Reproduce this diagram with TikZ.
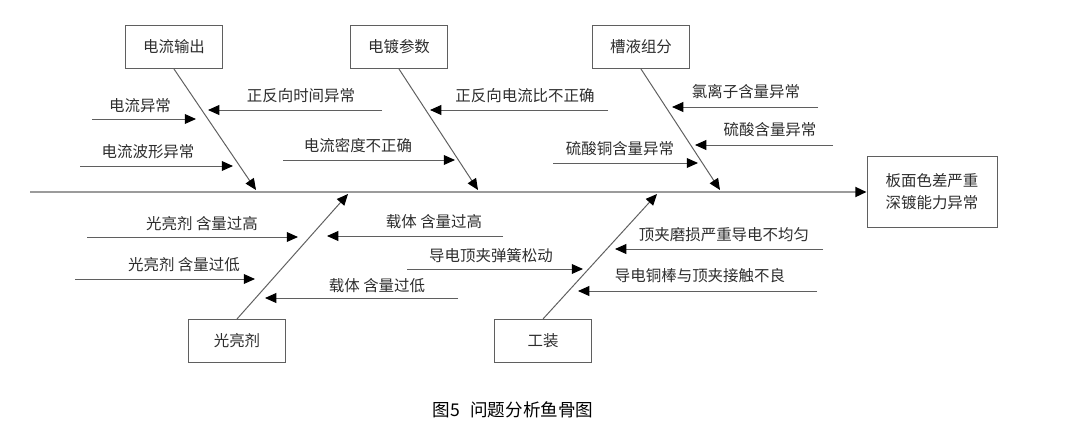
\documentclass[tikz,border=0pt]{standalone}
\usepackage{fontspec}
\setmainfont{Noto Sans CJK SC}
\usepackage{xcolor}
\definecolor{txtgray}{RGB}{45,45,45}
\definecolor{linegray}{RGB}{95,95,95}
\definecolor{spinegray}{RGB}{155,155,155}
\usepackage{tikz}
\usetikzlibrary{arrows.meta}

\begin{document}
\begin{tikzpicture}[x=0.025cm,y=-0.025cm,
  font=\fontsize{11pt}{15.5pt}\selectfont,every node/.style={align=center,text=txtgray},
  catbox/.style={draw=linegray,line width=0.6pt,minimum width=2.43cm,minimum height=1.08cm,inner sep=0pt},
  bone/.style={draw=linegray,line width=0.7pt,-{Triangle[length=8pt,width=7pt,color=black]}},
  cause/.style={bone},
  spine/.style={draw=spinegray,line width=1.6pt,-{Triangle[length=8pt,width=7pt,color=black]}}]
  % Lienzo 1087 x 434 px (1 px = 0.025 cm, y hacia abajo)
  \useasboundingbox (0,0) rectangle (1087,434);
  % --- Efecto y espina ---
  \node[catbox,minimum width=3.25cm,minimum height=1.78cm] (effect) at (932,192) {板面色差严重\\深镀能力异常};
  \coordinate (tail) at (30,192);
  \draw[spine] (tail) -- (effect.west);
  % --- Categorías ---
  \node[catbox] (current) at (174,47)  {电流输出};
  \node[catbox] (param)   at (399,47)  {电镀参数};
  \node[catbox] (bath)    at (641,47)  {槽液组分};
  \node[catbox] (bright)  at (237,341) {光亮剂};
  \node[catbox] (fixture) at (543,341) {工装};
  % --- Huesos principales ---
  \coordinate (current-in) at (256,190); \draw[bone] (current.south) -- (current-in);
  \coordinate (param-in)   at (478,190); \draw[bone] (param.south) -- (param-in);
  \coordinate (bath-in)    at (720,190); \draw[bone] (bath.south) -- (bath-in);
  \coordinate (bright-in)  at (348,194); \draw[bone] (bright.north) -- (bright-in);
  \coordinate (fixture-in) at (657,194); \draw[bone] (fixture.north) -- (fixture-in);
  % --- Causas: 电流输出 ---
  \coordinate (c1a) at (92,119);  \coordinate (c1b) at (196,119); \draw[cause] (c1a) -- (c1b); \node (c1) at (140,106) {电流异常};
  \coordinate (c2a) at (80,166);  \coordinate (c2b) at (233,166); \draw[cause] (c2a) -- (c2b); \node (c2) at (148,152) {电流波形异常};
  \coordinate (c3a) at (382,110); \coordinate (c3b) at (208,110); \draw[cause] (c3a) -- (c3b); \node (c3) at (301,96)  {正反向时间异常};
  % --- Causas: 电镀参数 ---
  \coordinate (c4a) at (283,160); \coordinate (c4b) at (455,160); \draw[cause] (c4a) -- (c4b); \node (c4) at (358,146) {电流密度不正确};
  \coordinate (c5a) at (608,110); \coordinate (c5b) at (430,110); \draw[cause] (c5a) -- (c5b); \node (c5) at (525,96)  {正反向电流比不正确};
  % --- Causas: 槽液组分 ---
  \coordinate (c6a) at (818,107); \coordinate (c6b) at (672,107); \draw[cause] (c6a) -- (c6b); \node (c6) at (746,92)  {氯离子含量异常};
  \coordinate (c7a) at (833,145); \coordinate (c7b) at (695,145); \draw[cause] (c7a) -- (c7b); \node (c7) at (770,130) {硫酸含量异常};
  \coordinate (c8a) at (553,163); \coordinate (c8b) at (698,163); \draw[cause] (c8a) -- (c8b); \node (c8) at (620,149) {硫酸铜含量异常};
  % --- Causas: 光亮剂 ---
  \coordinate (c9a)  at (87,237);  \coordinate (c9b)  at (298,237); \draw[cause] (c9a) -- (c9b);   \node (c9)  at (202,224) {光亮剂 含量过高};
  \coordinate (c10a) at (75,279);  \coordinate (c10b) at (255,279); \draw[cause] (c10a) -- (c10b); \node (c10) at (184,265) {光亮剂 含量过低};
  \coordinate (c11a) at (503,236); \coordinate (c11b) at (327,236); \draw[cause] (c11a) -- (c11b); \node (c11) at (434,222) {载体 含量过高};
  \coordinate (c12a) at (458,298); \coordinate (c12b) at (265,298); \draw[cause] (c12a) -- (c12b); \node (c12) at (377,286) {载体 含量过低};
  % --- Causas: 工装 ---
  \coordinate (c13a) at (407,269); \coordinate (c13b) at (583,269); \draw[cause] (c13a) -- (c13b); \node (c13) at (491,256) {导电顶夹弹簧松动};
  \coordinate (c14a) at (823,249); \coordinate (c14b) at (615,249); \draw[cause] (c14a) -- (c14b); \node (c14) at (724,235) {顶夹磨损严重导电不均匀};
  \coordinate (c15a) at (817,291); \coordinate (c15b) at (578,291); \draw[cause] (c15a) -- (c15b); \node (c15) at (700,276) {导电铜棒与顶夹接触不良};
  % pie de figura
  \node[font=\fontsize{12.5pt}{14pt}\selectfont,text=black] (caption) at (513,410) {图5\hspace{0.6em}问题分析鱼骨图};
\end{tikzpicture}
\end{document}
